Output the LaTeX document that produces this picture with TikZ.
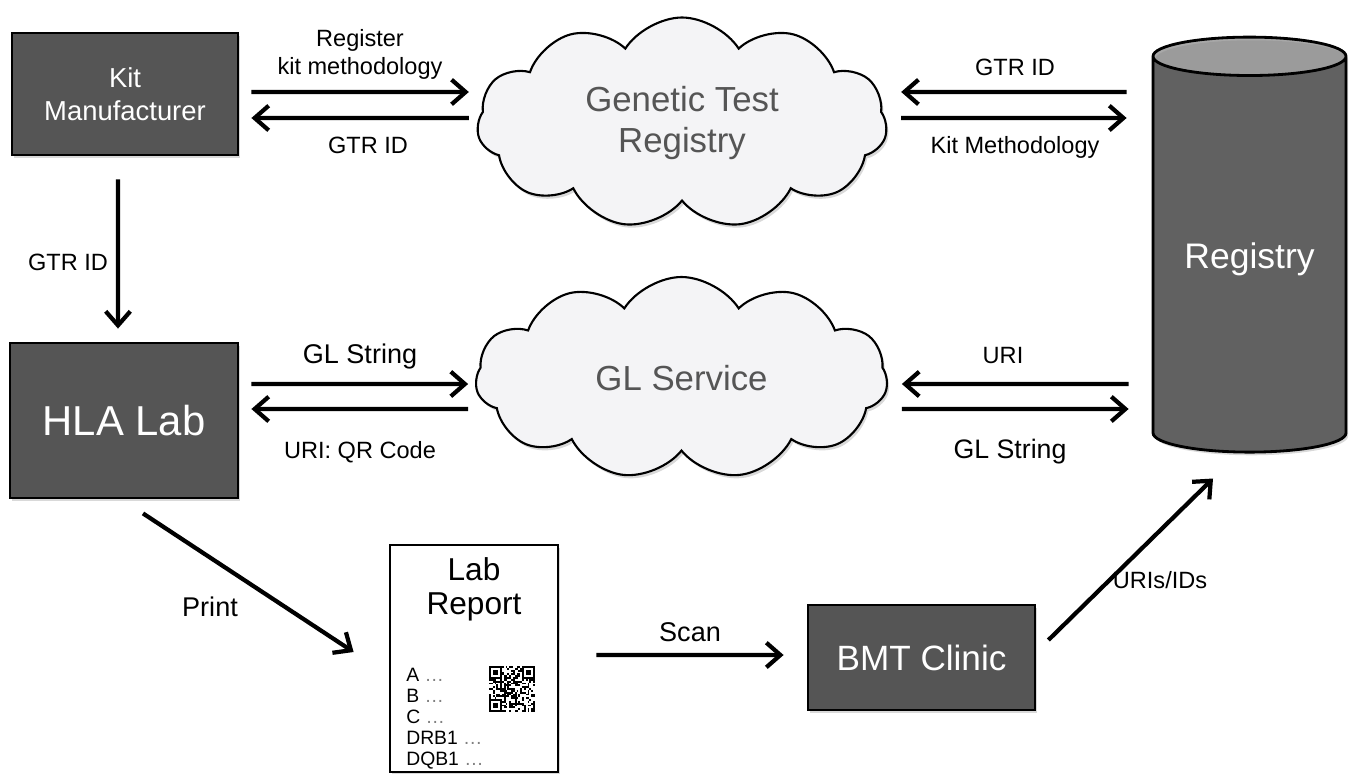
\documentclass[tikz,border=0pt]{standalone}
\usepackage{fontspec}
\setmainfont{Liberation Sans}
\usepackage{xcolor}
\usepackage{tikz}
\usetikzlibrary{arrows.meta,shapes.symbols,shapes.geometric,shadows}

\definecolor{boxgray}{HTML}{555555}
\definecolor{topgray}{HTML}{A8A8A8}
\definecolor{cloudfill}{HTML}{F4F4F6}
\definecolor{cloudtext}{HTML}{555555}

\begin{document}
\begin{tikzpicture}[
  shade/.style={drop shadow={opacity=0.3,shadow xshift=0.6pt,shadow yshift=-0.9pt}},
  box/.style={draw=black, line width=0.8pt, fill=boxgray, text=white, align=center, shade},
  cloudy/.style={cloud, cloud puffs=11, cloud puff arc=115, cloud ignores aspect, draw=black,
    line width=0.6pt, fill=cloudfill, text=cloudtext, align=center, inner sep=0pt, shade,
    font=\fontsize{9.9}{11.5}\selectfont},
  arr/.style={line width=1.2pt, -{Straight Barb[length=4pt,width=7pt]}},
  lbl/.style={align=center, font=\fontsize{6.7}{8}\selectfont}
]
\useasboundingbox (0,0) rectangle (13.52,7.73);

% actors
\node[box, minimum width=2.26cm, minimum height=1.22cm, font=\fontsize{7.8}{9.4}\selectfont]
  (KM) at (1.25,6.79) {Kit\\Manufacturer};
\node[box, minimum width=2.28cm, minimum height=1.55cm, font=\fontsize{11.9}{14}\selectfont]
  (HLA) at (1.24,3.525) {HLA Lab};
\node[box, minimum width=2.27cm, minimum height=1.05cm, font=\fontsize{10}{12}\selectfont]
  (BMT) at (9.215,1.155) {BMT Clinic};
\node[cylinder, shape border rotate=90, aspect=0.25, minimum width=1.93cm, minimum height=4.15cm,
  draw=black, line width=0.8pt, cylinder uses custom fill, cylinder body fill=boxgray,
  cylinder end fill=topgray, text=white, font=\fontsize{10.1}{12}\selectfont, shade]
  (Reg) at (12.495,5.135) {Registry};

% services
\node[cloudy, minimum width=4.1cm, minimum height=2.11cm] (GTR) at (6.82,6.5) {Genetic Test\\Registry};
\node[cloudy, minimum width=4.12cm, minimum height=2.02cm] (GL) at (6.815,3.95) {GL Service};

% lab report
\node[draw=black, line width=0.8pt, fill=white, minimum width=1.68cm, minimum height=2.27cm, shade]
  (Report) at (4.74,1.145) {};
\node[align=center, font=\fontsize{9}{9.8}\selectfont] (RepTitle) at ([yshift=0.69cm]Report.center) {Lab\\Report};
\node[align=left, anchor=north west, inner sep=0pt, font=\fontsize{5.5}{6}\selectfont]
  (RepLines) at ([shift={(0.17,-1.24)}]Report.north west)
  {A \textcolor{gray}{…}\\B \textcolor{gray}{…}\\C \textcolor{gray}{…}\\DRB1 \textcolor{gray}{…}\\DQB1 \textcolor{gray}{…}};
\coordinate (QR) at ([shift={(0.15,-0.535)}]Report.center);
\def\qs{0.0184}
\begin{scope}[shift={(QR)}]
  \pgfmathsetseed{17}
  \foreach \i in {0,...,24}{
    \foreach \j in {0,...,24}{
      \pgfmathrandominteger{\bit}{0}{1}
      \ifnum\bit=1 \fill (\i*\qs,\j*\qs) rectangle ++(\qs,\qs); \fi
    }
  }
  \foreach \fx/\fy in {0/18,18/18,0/0}{
    \fill[white] (\fx*\qs,\fy*\qs) rectangle ++(7*\qs,7*\qs);
    \fill (\fx*\qs,\fy*\qs) rectangle ++(7*\qs,7*\qs);
    \fill[white] (\fx*\qs+\qs,\fy*\qs+\qs) rectangle ++(5*\qs,5*\qs);
    \fill (\fx*\qs+2*\qs,\fy*\qs+2*\qs) rectangle ++(3*\qs,3*\qs);
  }
\end{scope}

% top row
\draw[arr] ([shift={(0.12,0.02)}]KM.east) -- ([shift={(-0.08,0.31)}]GTR.west);
\draw[arr] ([shift={(-0.08,0.05)}]GTR.west) -- ([shift={(0.12,-0.24)}]KM.east);
\draw[arr] ([shift={(-0.25,1.675)}]Reg.west) -- ([shift={(0.14,0.31)}]GTR.east);
\draw[arr] ([shift={(0.14,0.05)}]GTR.east) -- ([shift={(-0.25,1.415)}]Reg.west);
\node[lbl] (lRegister) at (3.60,7.19) {Register\\kit methodology};
\node[lbl] (lGtrKM) at (3.68,6.28) {GTR ID};
\node[lbl] (lGtrReg) at (10.15,7.06) {GTR ID};
\node[lbl] (lKitMeth) at (10.15,6.26) {Kit Methodology};

% left column
\draw[arr] ([shift={(-0.07,-0.23)}]KM.south) -- ([shift={(-0.06,0.13)}]HLA.north);
\node[lbl] (lGtrDown) at (0.68,5.11) {GTR ID};

% middle row
\draw[arr] ([shift={(0.12,0.365)}]HLA.east) -- ([shift={(-0.07,-0.06)}]GL.west);
\draw[arr] ([shift={(-0.07,-0.31)}]GL.west) -- ([shift={(0.12,0.115)}]HLA.east);
\draw[arr] ([shift={(-0.23,-1.245)}]Reg.west) -- ([shift={(0.14,-0.06)}]GL.east);
\draw[arr] ([shift={(0.14,-0.31)}]GL.east) -- ([shift={(-0.23,-1.495)}]Reg.west);
\node[lbl, font=\fontsize{7.7}{9}\selectfont] (lGlHLA) at (3.60,4.17) {GL String};
\node[lbl] (lQR) at (3.60,3.21) {URI: QR Code};
\node[lbl] (lURI) at (10.03,4.17) {URI};
\node[lbl, font=\fontsize{7.6}{9}\selectfont] (lGlReg) at (10.10,3.21) {GL String};

% bottom
\draw[arr] ([shift={(0.19,-0.14)}]HLA.south) -- ([shift={(-0.35,0.065)}]Report.west);
\draw[arr] ([shift={(0.37,0.035)}]Report.east) -- ([shift={(-0.23,0.025)}]BMT.west);
\draw[arr] ([shift={(0.12,0.175)}]BMT.east) -- ([shift={(-0.365,-0.25)}]Reg.south);
\node[lbl, font=\fontsize{7.7}{9}\selectfont] (lPrint) at (2.10,1.66) {Print};
\node[lbl, font=\fontsize{7.7}{9}\selectfont] (lScan) at (6.90,1.41) {Scan};
\node[lbl] (lUris) at (11.60,1.93) {URIs/IDs};
\end{tikzpicture}
\end{document}
